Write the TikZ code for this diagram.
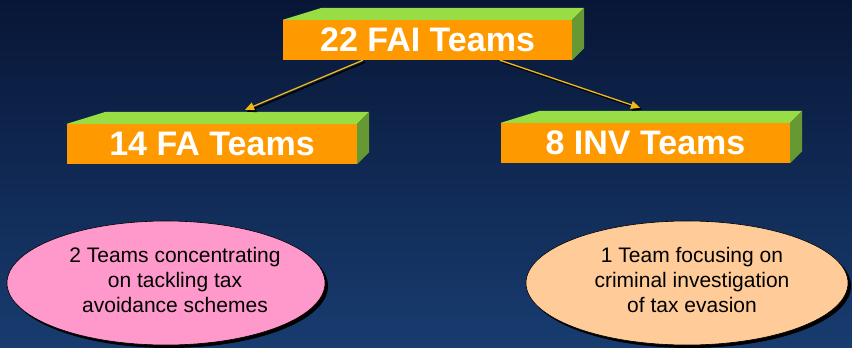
\documentclass[tikz,border=0pt]{standalone}
\usepackage{fontspec}
\setmainfont{Liberation Sans}
\usetikzlibrary{calc,arrows.meta,shapes.geometric}
\definecolor{bgtop}{RGB}{8,22,54}
\definecolor{bgbot}{RGB}{24,60,112}
\definecolor{boxfront}{RGB}{255,153,0}
\definecolor{boxtop}{RGB}{153,221,68}
\definecolor{boxside}{RGB}{102,153,51}
\definecolor{arrowgold}{RGB}{240,184,24}
\definecolor{pinkfill}{RGB}{255,153,204}
\definecolor{peachfill}{RGB}{255,204,153}
\tikzset{
  frontface/.style={fill=boxfront, draw=none, inner sep=0pt, minimum height=40pt,
    font=\fontsize{34}{34}\selectfont\bfseries, text=white},
  topface/.style={fill=boxtop, draw=none},
  sideface/.style={fill=boxside, draw=none},
  ovalbox/.style={ellipse, draw=black, line width=0.6pt, inner sep=0pt,
    minimum width=318pt, minimum height=124pt},
  ovalshadow/.style={ellipse, fill=black, draw=none, inner sep=0pt,
    minimum width=318pt, minimum height=124pt},
  ovaltext/.style={align=center, font=\fontsize{21}{25}\selectfont, text=black},
  linkshadow/.style={draw=black, line width=1.3pt, -{Triangle[length=9pt,width=8pt]}},
  link/.style={draw=arrowgold, line width=1.3pt, -{Triangle[length=9pt,width=8pt]}},
}
\newcommand{\cuboidfaces}[1]{%
  \fill[topface] (#1.north west) -- ++(39pt,12pt) -- ($(#1.north east)+(12pt,12pt)$) -- (#1.north east) -- cycle;
  \fill[sideface] (#1.north east) -- ++(12pt,12pt) -- ($(#1.south east)+(12pt,12pt)$) -- (#1.south east) -- cycle;
}
\begin{document}
\begin{tikzpicture}[x=1pt,y=-1pt]
\shade[top color=bgtop, bottom color=bgbot] (0,0) rectangle (852,348);
\useasboundingbox (0,0) rectangle (852,348);

% boxes
\node[frontface, minimum width=289pt] (top) at (427.5,40) {22 FAI Teams};
\cuboidfaces{top}
\node[frontface, minimum width=290pt] (fa) at (212,144) {14 FA Teams};
\cuboidfaces{fa}
\node[frontface, minimum width=289pt] (inv) at (645.5,143) {8 INV Teams};
\cuboidfaces{inv}

% connectors
\coordinate (s1) at ($(top.south west)!0.277!(top.south east)$);
\coordinate (s2) at ($(top.south west)!0.75!(top.south east)$);
\coordinate (e1) at ($(fa.north west)!0.614!(fa.north east)+(0,-14)$);
\coordinate (e2) at ($(inv.north west)!0.481!(inv.north east)+(0,-15)$);
\draw[linkshadow] ($(s1)+(2,2)$) -- ($(e1)+(2,2)$);
\draw[linkshadow] ($(s2)+(2,2)$) -- ($(e2)+(2,2)$);
\draw[link] (s1) -- (e1);
\draw[link] (s2) -- (e2);

% ellipses
\node[ovalshadow] (pinkshadow) at (169,286) {};
\node[ovalbox, fill=pinkfill] (pink) at (166,283) {};
\node[ovaltext] (pinktext) at (175,280) {2 Teams concentrating\\on tackling tax\\avoidance schemes};
\node[ovalshadow, minimum width=322pt] (peachshadow) at (690,286) {};
\node[ovalbox, fill=peachfill, minimum width=322pt] (peach) at (687,283) {};
\node[ovaltext] (peachtext) at (692,280) {1 Team focusing on\\criminal investigation\\of tax evasion};
\end{tikzpicture}
\end{document}
